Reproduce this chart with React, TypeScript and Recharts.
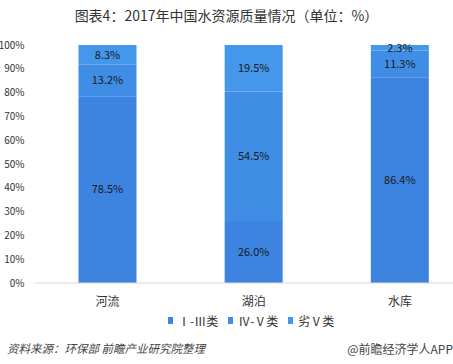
import React from "react";
import { BarChart, Bar, XAxis, YAxis, LabelList } from "recharts";

const categories = ["河流", "湖泊", "水库"];
const grade1to3 = [78.5, 26.0, 86.4];
const grade4to5 = [13.2, 54.5, 11.3];
const worseThan5 = [8.3, 19.5, 2.3];
const yTicks = [0, 10, 20, 30, 40, 50, 60, 70, 80, 90, 100];

const series = [
  { key: "g13", name: "Ⅰ-Ⅲ类", color: "#3d84e1", values: grade1to3 },
  { key: "g45", name: "Ⅳ-Ⅴ类", color: "#408de6", values: grade4to5 },
  { key: "g6", name: "劣Ⅴ类", color: "#4597eb", values: worseThan5 },
];

const data = categories.map((c, i) => {
  const row: any = { name: c };
  series.forEach((s) => (row[s.key] = s.values[i]));
  return row;
});

const font = '"Microsoft YaHei", "Noto Sans CJK SC", "Noto Sans", sans-serif';

export default function App() {
  return (
    <div
      style={{
        position: "absolute",
        left: 0,
        top: 0,
        width: 453,
        height: 364,
        overflow: "hidden",
        background: "#fff",
        fontFamily: font,
      }}
    >
      <div
        style={{
          position: "absolute",
          top: 5,
          left: 0,
          width: 453,
          textAlign: "center",
          fontSize: 14,
          color: "#333",
        }}
      >
        图表4：2017年中国水资源质量情况（单位：%）
      </div>
      <div style={{ position: "absolute", left: 0, top: 0 }}>
        <BarChart
          width={474}
          height={364}
          data={data}
          margin={{ top: 45, right: 1, left: 0, bottom: 51 }}
        >
          <XAxis
            dataKey="name"
            axisLine={{ stroke: "#d9d9d9" }}
            tickLine={false}
            height={30}
            tick={{ fontSize: 12, fill: "#333", fontFamily: font }}
            tickMargin={8}
          />
          <YAxis
            width={34.5}
            domain={[0, 100]}
            ticks={yTicks}
            axisLine={false}
            tickLine={false}
            tickFormatter={(v: number) => `${v}%`}
            tick={{ fontSize: 10, fill: "#333", fontFamily: font }}
            tickMargin={4}
            interval={0}
          />
          {series.map((s) => (
            <Bar
              key={s.key}
              dataKey={s.key}
              name={s.name}
              stackId="a"
              fill={s.color}
              barSize={58}
              isAnimationActive={false}
            >
              <LabelList
                dataKey={s.key}
                position="center"
                formatter={(v: number) => `${v.toFixed(1)}%`}
                style={{ fontSize: 11, fill: "#1a1a1a", fontFamily: font }}
              />
            </Bar>
          ))}
        </BarChart>
      </div>
      <div
        style={{
          position: "absolute",
          top: 312,
          left: 168,
          display: "flex",
          alignItems: "center",
          fontSize: 12,
          color: "#333",
        }}
      >
        {series.map((s) => (
          <div key={s.key} style={{ display: "flex", alignItems: "center", marginRight: 10 }}>
            <span
              style={{
                display: "inline-block",
                width: 5,
                height: 7,
                background: s.color,
                marginRight: 5,
              }}
            />
            <span>{s.name}</span>
          </div>
        ))}
      </div>
      <div
        style={{
          position: "absolute",
          top: 340,
          left: 7,
          fontSize: 11.5,
          fontStyle: "italic",
          color: "#444",
        }}
      >
        资料来源：环保部 前瞻产业研究院整理
      </div>
      <div
        style={{
          position: "absolute",
          top: 340,
          right: 0,
          fontSize: 12,
          color: "#444",
        }}
      >
        @前瞻经济学人APP
      </div>
    </div>
  );
}
